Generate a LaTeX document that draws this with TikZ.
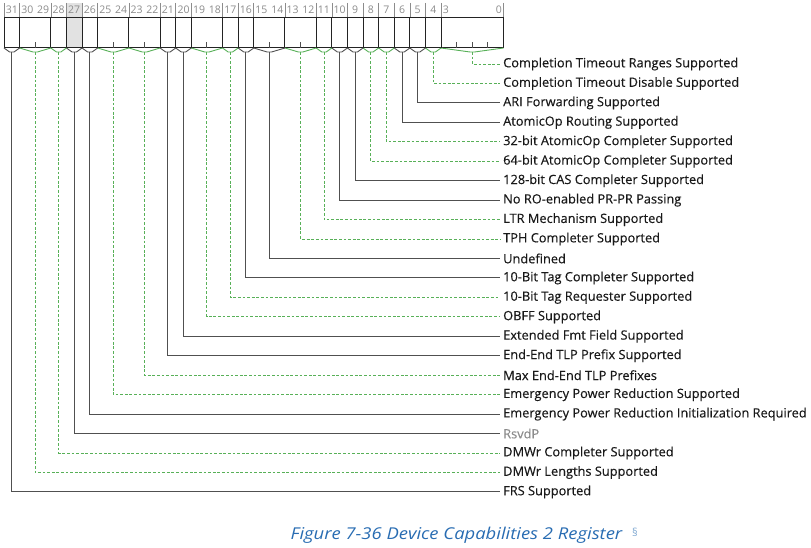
\documentclass[tikz,border=0pt]{standalone}
\usepackage{fontspec}
\setmainfont{Open Sans}
\newfontfamily\labfont{Open Sans}[FakeBold=0.35]
\definecolor{grn}{RGB}{88,176,88}
\definecolor{dk}{RGB}{80,80,80}
\definecolor{boxc}{RGB}{35,35,35}
\definecolor{lblc}{RGB}{140,140,140}
\definecolor{txtc}{RGB}{25,25,25}
\definecolor{capblue}{RGB}{40,108,178}
\definecolor{secblue}{RGB}{130,170,210}
\definecolor{rsv}{RGB}{226,226,226}
\tikzset{
  fieldbox/.style={draw=boxc, line width=1pt, minimum height=30pt, inner sep=0pt, outer sep=0pt},
  gconn/.style={draw=grn, line width=0.9pt, dash pattern=on 2.8pt off 1.8pt},
  sconn/.style={draw=dk, line width=1pt},
  gshape/.style={draw=grn, line width=0.9pt},
  sshape/.style={draw=dk, line width=0.9pt},
  lab/.style={anchor=west, inner sep=3pt, text=txtc, font=\labfont\fontsize{12.8}{14}\selectfont},
  rlab/.style={lab, text=lblc},
  bitnum/.style={text=lblc, inner sep=1pt, font=\fontsize{10.5}{12}\selectfont},
  sep/.style={draw=lblc, line width=0.6pt},
  tick/.style={draw=dk, line width=0.9pt}
}
\begin{document}
\begin{tikzpicture}[x=1pt,y=-1pt]
\useasboundingbox (0,0) rectangle (811,548);
\def\R{503.5}
\pgfmathsetmacro\w{(503.5-4)/32}
% reserved field shading
\pgfmathsetmacro\rl{\R-28*\w}
\pgfmathsetmacro\rr{\R-27*\w}
\fill[rsv] (\rl,3) rectangle (\rr,48);
\foreach \hi/\lo/\kind/\row/\ls/\txt in {
  3/0/g/0/lab/Completion Timeout Ranges Supported,
  4/4/g/1/lab/Completion Timeout Disable Supported,
  5/5/s/2/lab/ARI Forwarding Supported,
  6/6/s/3/lab/AtomicOp Routing Supported,
  7/7/g/4/lab/32-bit AtomicOp Completer Supported,
  8/8/g/5/lab/64-bit AtomicOp Completer Supported,
  9/9/s/6/lab/128-bit CAS Completer Supported,
  10/10/s/7/lab/No RO-enabled PR-PR Passing,
  11/11/g/8/lab/LTR Mechanism Supported,
  13/12/g/9/lab/TPH Completer Supported,
  15/14/s/10/lab/Undefined,
  16/16/s/11/lab/10-Bit Tag Completer Supported,
  17/17/g/12/lab/10-Bit Tag Requester Supported,
  19/18/g/13/lab/OBFF Supported,
  20/20/s/14/lab/Extended Fmt Field Supported,
  21/21/s/15/lab/End-End TLP Prefix Supported,
  23/22/g/16/lab/Max End-End TLP Prefixes,
  25/24/g/17/lab/Emergency Power Reduction Supported,
  26/26/s/18/lab/Emergency Power Reduction Initialization Required,
  27/27/s/19/rlab/RsvdP,
  28/28/g/20/lab/DMWr Completer Supported,
  30/29/g/21/lab/DMWr Lengths Supported,
  31/31/s/22/lab/FRS Supported}
{
  \pgfmathsetmacro\xl{\R-(\hi+1)*\w}
  \pgfmathsetmacro\xr{\R-\lo*\w}
  \pgfmathsetmacro\xc{(\xl+\xr)/2}
  \pgfmathsetmacro\yy{64+\row*19.45}
  \pgfmathsetmacro\fw{\xr-\xl}
  \node[fieldbox, minimum width=\fw pt] (f\hi) at (\xc,33) {};
  % ticks for multi-bit fields
  \pgfmathtruncatemacro\nb{\hi-\lo}
  \ifnum\nb>0
    \pgfmathtruncatemacro\lp{\lo+1}
    \foreach \b in {\lp,...,\hi} {
      \pgfmathsetmacro\xt{\R-\b*\w}
      \draw[tick] (\xt,48) -- (\xt,42);
    }
    \node[bitnum, anchor=west] (bh\hi) at (\xl+0.5,10) {\hi};
    \node[bitnum, anchor=east] (bl\hi) at (\xr-0.5,10) {\lo};
  \else
    \node[bitnum] (bh\hi) at (\xc,10) {\hi};
  \fi
  \draw[sep] (\xl,3) -- (\xl,17.5);
  % bottom shape
  \coordinate (t\hi) at (\xc,52);
  \draw[\kind shape] (\xl,48) -- (\xc-2.2,52) -- (\xc+2.2,52) -- (\xr,48);
  % label and connector
  \node[\ls] (l\hi) at (500,\yy) {\txt};
  \draw[\kind conn] (t\hi) |- (l\hi.west);
}
\draw[sep] (\R,3) -- (\R,17.5);
% caption
\node[text=capblue, font=\fontsize{16.3}{18}\selectfont\itshape, inner sep=0pt] (cap) at (456.5,535) {\scalebox{1.13}[1]{Figure 7-36 Device Capabilities 2 Register}};
\node[text=secblue, font=\fontsize{11}{12}\selectfont, anchor=west, inner sep=0pt] (sec) at (632,532) {§};
\end{tikzpicture}
\end{document}
